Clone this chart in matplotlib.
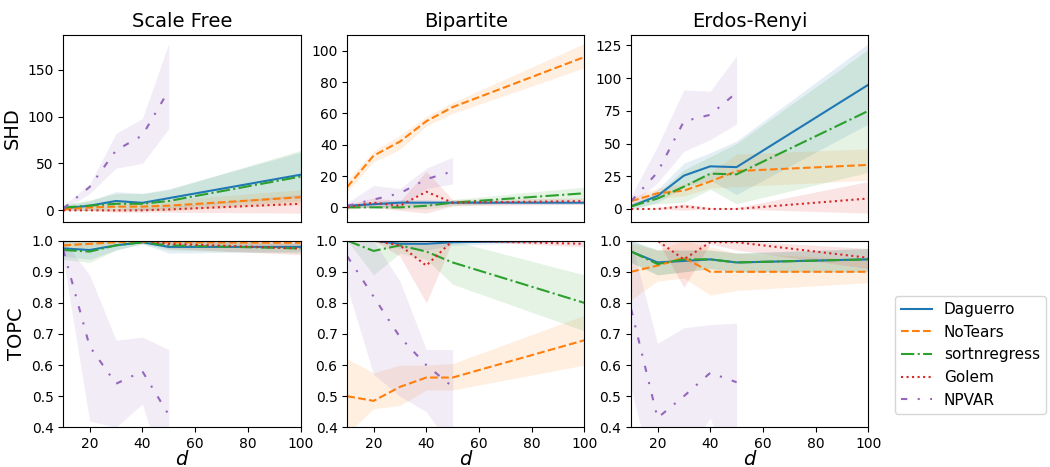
import numpy as np
import matplotlib
matplotlib.use("Agg")
import matplotlib.pyplot as plt

# graph sizes d (NPVAR only run up to d=50)
d_full = [10, 20, 30, 40, 50, 100]
d_npvar = [10, 20, 30, 40, 50]

methods = ["Daguerro", "NoTears", "sortnregress", "Golem", "NPVAR"]
colors = ["tab:blue", "tab:orange", "tab:green", "tab:red", "tab:purple"]
styles = ["-", "--", "-.", ":", (0, (3, 5, 1, 5))]

graph_types = ["Scale Free", "Bipartite", "Erdos-Renyi"]
metrics = ["SHD", "TOPC"]

# ---- SHD, Scale Free: (mean, low, high)
sf_shd = {
    "Daguerro":     ([2, 5, 10, 8, 13, 38], [0, 0, 3, 0, 3, 14], [5, 10, 20, 18, 23, 62]),
    "NoTears":      ([1, 3, 4, 4, 5, 14], [0, 0, -1, 0, 0, 6], [3, 6, 9, 9, 11, 22]),
    "sortnregress": ([3, 5, 7, 7, 10, 36], [0, 0, 0, 0, 0, 10], [6, 11, 18, 18, 22, 64]),
    "Golem":        ([0, 0, 0, 0, 1, 7], [0, 0, -2, -2, -2, -3], [0, 1, 2, 3, 4, 17]),
    "NPVAR":        ([2, 25, 64, 80, 128], [0, 18, 45, 50, 87], [5, 28, 82, 98, 178]),
}
# ---- SHD, Bipartite
bp_shd = {
    "Daguerro":     ([1, 2, 3, 3, 3, 3], [0, 0, 1, 1, 2, 2], [2, 4, 5, 5, 4, 4]),
    "NoTears":      ([13, 33, 42, 55, 64, 96], [10, 29, 37, 52, 60, 89], [17, 36, 46, 58, 67, 104.6]),
    "sortnregress": ([0, 0, 0, 1, 3, 9], [0, 0, -1, -1, 1, 5], [1, 1, 2, 3, 5, 13]),
    "Golem":        ([0, 3, 1, 10, 3, 4], [-1, 0, -2, -3.7, 1, 2], [2, 6, 4, 23, 5, 6]),
    "NPVAR":        ([1, 5, 9, 18, 23], [0, 0, 0, 12, 15], [3, 14, 12, 25, 32]),
}
# ---- SHD, Erdos-Renyi
er_shd = {
    "Daguerro":     ([2, 10, 25.5, 32.6, 32, 95], [0, 5, 17, 22, 11, 65], [4, 15, 35, 43, 52, 126.5]),
    "NoTears":      ([6, 12, 14, 21, 29, 33.7], [3, 8, 10, 16, 17, 22], [9, 16, 19, 28, 42, 46]),
    "sortnregress": ([2, 8, 17, 27, 26.5, 75], [0, 4, 5, 15, 4, 28], [4, 12, 30, 40, 50, 122]),
    "Golem":        ([0, 0, 2, 0, 0, 8], [0, 0, -1, 0, 0, -3.2], [0, 1, 4, 1, 1, 21]),
    "NPVAR":        ([6, 28, 67, 72, 89], [2, 20, 44, 53, 65], [10, 48, 91, 90, 117]),
}

# ---- TOPC, Scale Free
sf_topc = {
    "Daguerro":     ([0.975, 0.97, 0.985, 0.995, 0.98, 0.98], [0.95, 0.94, 0.97, 0.99, 0.96, 0.965], [1.0, 1.0, 1.0, 1.0, 1.0, 0.995]),
    "NoTears":      ([0.985, 0.99, 0.995, 0.997, 0.995, 0.993], [0.97, 0.98, 0.99, 0.99, 0.99, 0.985], [1.0, 1.0, 1.0, 1.0, 1.0, 1.0]),
    "sortnregress": ([0.97, 0.965, 0.985, 0.995, 0.985, 0.975], [0.94, 0.93, 0.97, 0.99, 0.97, 0.96], [1.0, 1.0, 1.0, 1.0, 1.0, 0.99]),
    "Golem":        ([1.0, 1.0, 1.0, 1.0, 0.99, 0.975], [1.0, 1.0, 1.0, 1.0, 0.975, 0.955], [1.0, 1.0, 1.0, 1.0, 1.0, 0.995]),
    "NPVAR":        ([0.97, 0.66, 0.54, 0.58, 0.44], [0.94, 0.42, 0.40, 0.475, 0.2], [1.0, 0.89, 0.68, 0.69, 0.65]),
}
# ---- TOPC, Bipartite
bp_topc = {
    "Daguerro":     ([1.0, 1.0, 0.99, 0.99, 0.995, 1.0], [1.0, 1.0, 0.975, 0.97, 0.985, 1.0], [1.0, 1.0, 1.0, 1.0, 1.0, 1.0]),
    "NoTears":      ([0.50, 0.485, 0.53, 0.56, 0.56, 0.68], [0.38, 0.46, 0.47, 0.52, 0.52, 0.60], [0.62, 0.575, 0.60, 0.60, 0.605, 0.76]),
    "sortnregress": ([1.0, 0.967, 0.985, 0.965, 0.93, 0.80], [1.0, 0.89, 0.96, 0.94, 0.86, 0.71], [1.0, 1.0, 1.0, 0.99, 1.0, 0.89]),
    "Golem":        ([1.0, 1.0, 0.985, 0.92, 1.0, 0.99], [1.0, 1.0, 0.95, 0.80, 1.0, 0.98], [1.0, 1.0, 1.0, 1.0, 1.0, 1.0]),
    "NPVAR":        ([0.95, 0.82, 0.69, 0.60, 0.53], [0.85, 0.57, 0.50, 0.45, 0.33], [1.0, 1.0, 0.87, 0.65, 0.65]),
}
# ---- TOPC, Erdos-Renyi
er_topc = {
    "Daguerro":     ([0.965, 0.93, 0.935, 0.94, 0.93, 0.94], [0.93, 0.89, 0.90, 0.91, 0.90, 0.90], [1.0, 0.97, 0.97, 0.97, 0.96, 0.975]),
    "NoTears":      ([0.90, 0.92, 0.945, 0.90, 0.90, 0.90], [0.81, 0.87, 0.88, 0.825, 0.84, 0.865], [0.99, 0.97, 1.0, 0.98, 0.96, 0.94]),
    "sortnregress": ([0.965, 0.925, 0.94, 0.94, 0.93, 0.94], [0.93, 0.89, 0.90, 0.91, 0.90, 0.90], [1.0, 0.97, 0.97, 0.97, 0.96, 0.975]),
    "Golem":        ([1.0, 1.0, 0.94, 0.995, 0.995, 0.945], [1.0, 1.0, 0.85, 0.99, 0.97, 0.91], [1.0, 1.0, 1.0, 1.0, 1.0, 0.975]),
    "NPVAR":        ([0.78, 0.43, 0.50, 0.575, 0.545], [0.52, 0.2, 0.3, 0.43, 0.2], [1.0, 0.67, 0.72, 0.73, 0.735]),
}

panels = [[sf_shd, bp_shd, er_shd], [sf_topc, bp_topc, er_topc]]

fig, axes = plt.subplots(2, 3, figsize=(10.5, 4.67), dpi=100)
fig.subplots_adjust(left=0.0603, right=0.827, top=0.925, bottom=0.085,
                    wspace=0.197, hspace=0.102)

for r in range(2):
    for c in range(3):
        ax = axes[r, c]
        data = panels[r][c]
        for m, col, ls in zip(methods, colors, styles):
            mean, lo, hi = data[m]
            x = d_npvar if m == "NPVAR" else d_full
            ax.plot(x, mean, color=col, linestyle=ls, linewidth=1.5, label=m)
            ax.fill_between(x, lo, hi, color=col, alpha=0.12, linewidth=0)
        ax.set_xlim(10, 100)
        if r == 0:
            ax.set_title(graph_types[c], fontsize=14)
            ax.tick_params(axis="x", bottom=False, labelbottom=False)
        else:
            ax.set_ylim(0.4, 1.0)
            ax.set_xlabel("$d$", fontsize=14, labelpad=-0.5)
        if c == 0:
            ax.set_ylabel(metrics[r], fontsize=14)

handles, labels = axes[0, 0].get_legend_handles_labels()
fig.legend(handles, labels, loc="center left", bbox_to_anchor=(0.845, 0.24),
           fontsize=11)

plt.savefig("out.png", dpi=100)
